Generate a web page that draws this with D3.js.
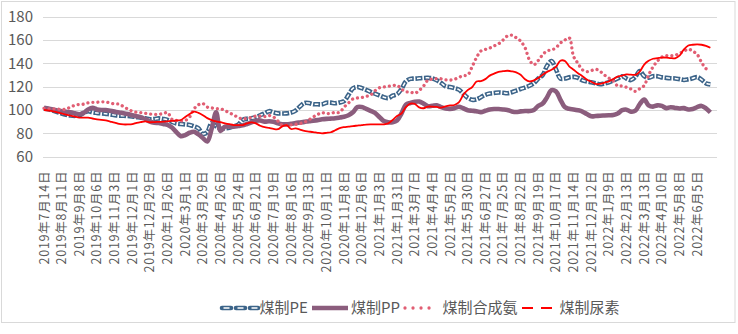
<!DOCTYPE html>
<html><head><meta charset="utf-8">
<script src="https://cdn.jsdelivr.net/npm/d3@7"></script>
<style>
html,body{margin:0;padding:0;background:#fff;}
svg{display:block;}
text{font-family:"Noto Sans CJK SC","Noto Sans",sans-serif;fill:#595959;}
</style></head><body>
<svg id="chart" width="738" height="334"></svg>
<script>
const tickLabels = ["2019年7月14日","2019年8月11日","2019年9月8日","2019年10月6日","2019年11月3日","2019年12月1日","2019年12月29日",
"2020年1月26日","2020年3月1日","2020年3月29日","2020年4月26日","2020年5月24日","2020年6月21日","2020年7月19日","2020年8月16日","2020年9月13日","2020年10月11日","2020年11月8日","2020年12月6日",
"2021年1月3日","2021年1月31日","2021年3月7日","2021年4月4日","2021年5月2日","2021年5月30日","2021年6月27日","2021年7月25日","2021年8月22日","2021年9月19日","2021年10月17日","2021年11月14日","2021年12月12日",
"2022年1月9日","2022年2月13日","2022年3月13日","2022年4月10日","2022年5月8日","2022年6月5日"];
const yTicks = [60,80,100,120,140,160,180];
const seriesNames = ["煤制PE","煤制PP","煤制合成氨","煤制尿素"];

const pe = [101.4,100.6,99.5,98.3,97,96,95.3,95,95.5,97.5,
99,98,97.5,97.1,96.7,96.3,95.6,95.1,95.1,94.8,
94.4,93.9,93.4,92.8,92.1,92.3,92.8,92.3,91.5,89.8,
88.4,88,87.6,87.2,86,84.3,79.5,81,89,86,
84,84.3,84.7,86,87.5,91.5,92.5,92.9,93.8,95.5,
97.1,99,98,97.1,97,97.1,97.8,99.5,103,106,
106,105,104.9,104.9,106.3,106.3,105.8,106.5,107.6,113,
118.5,119.8,118.8,117.3,115.6,114,112.5,111,110.2,112.3,
113.5,118,124.5,126.7,126.9,127.2,127.5,127.6,127.1,125.5,
123.2,120.3,119.7,118.8,117.5,114,110.5,108.8,109,111,
113,114.1,114.6,115,114.8,114.4,115.2,116.6,118,119.2,
120.8,123,127,130,138,142,135,127,127,128,
128.4,127.5,125.5,124.5,123.8,123,122.1,122.8,123.8,125.5,
127.1,129,127,125.7,128.5,133.5,129,127.7,129,129,
128,127.6,127.3,127.1,126.5,125.8,126.3,127.2,128.3,126,
122.9,122];

const pp = [102,101.2,100.5,99.6,99,98.5,98,97.2,96.4,97.5,
100.5,101.8,100.5,100,100,99.3,98.6,97.9,97.3,96.5,
95.5,94.6,93.7,92.3,90,89,88.8,88,87.3,85,
81,77.5,78.5,80.5,81.3,79,76,73,84,98,
82,85.7,85.7,85.7,86.2,86.8,88,89.3,90.8,91,
90,90.3,90,88.6,87.7,87.7,88.2,88.8,89.3,89.8,
90.4,90.8,91.3,92,92.4,92.6,92.9,93.5,94.2,95.5,
98,102.5,102.5,101,99.3,97.5,94,90.5,89.4,89.5,
91,97,104.5,106,107,107.2,105.5,103.3,103.6,104,
102.5,101.3,101,101.5,102.8,101.5,99.8,99.4,99,98.2,
99.3,100.4,100.8,100.8,100.5,100,98.8,98.3,98.8,99.1,
99.1,100,103.5,105.5,111,117,116,109,102.5,101,
100.5,99.8,98.7,96.5,94.6,94.8,95.1,95.3,95.5,95.7,
97,99.8,100.3,98.6,99.4,105,109,104,102.9,104,
103.5,101.6,102.4,101.8,101.3,101.6,100.5,100.8,102.5,103.5,
101.4,98];

const ammonia = [101.4,101,101,100.9,100.3,100.8,102.5,104,104.8,105,
106.2,106.6,106.6,107,106.9,106,105.2,105.1,103,100.8,
99,98,97.8,97.1,96.6,96.3,96.3,97,97.8,92,
91,90.6,91,94,101,104.5,105.5,102.5,101.8,101.2,
101,99.5,97.5,95.8,93.5,92.4,92.8,93.6,94.8,94.7,
94.3,95.3,94,90.6,86.8,86.9,87.3,87.7,88.4,89.5,
91.5,94,96.2,97.7,96.8,97.2,98,98,102.5,106,
109.5,110.3,110.7,111.7,112.8,116.5,119.1,119.7,120.3,120.9,
121.2,118,115.7,115.5,114.3,116.8,120.5,125.7,126.5,127,
126.8,125.9,125.7,126.3,128,129.5,130,137,145,150.6,
152,153.2,155,156.8,160,163.5,164.3,162,159.1,153.5,
143,138.8,142.5,147.5,150.8,151.5,153.4,157.5,160,162,
146,140,134.5,133,133.8,135,133.2,130,127.4,125,
120.6,120.6,119.5,118,116,118.3,121,130,137,142,
145.5,146.6,146.6,147,148.6,150.4,152.2,150.5,147.8,141,
135.5,134.3];

const urea = [100,99.5,98.9,98,97,96,95.2,94.3,93.5,93.4,
93.4,92.7,92,91.6,91,90.1,89.2,88,87.6,87.6,
87.8,89,89.7,90.2,89.5,89.6,89.8,90,90.3,90.6,
91,91.4,94,96.5,98.6,97.5,95.5,93,91.3,90.2,
89.5,88.6,87.8,87.1,87,87.1,88.5,89.4,88.5,86.5,
85.2,84.7,83.8,83.5,86,87,83.7,84.2,83.2,82,
81.5,81,80.4,80,80.4,80.9,82.6,84.5,85.3,85.7,
86.2,86.6,87,87.5,87.7,87.7,87.7,87.7,88.5,91.5,
94.8,97,102.5,105.5,105.2,102.3,101.5,102.9,102.9,102.6,
102,103.2,103.9,104.3,106.5,113,117.1,119.5,124.4,124.8,
126.5,129.5,131.2,132.7,133.3,133.7,133.2,132.3,130.2,126.4,
124.5,125.4,127.4,130.3,132.7,134.5,137.1,142.3,142.2,137.5,
134.6,131.6,129,126.2,124.3,122.5,122.4,123.5,124.6,126.6,
128.6,129.5,130.5,130.3,130.2,133,139,142.2,144,144.5,
145,145,144.6,144.4,146.6,152,155.4,156,156.3,156,
155,153.4];

const svg = d3.select("#chart");
const plotLeft = 43, plotRight = 717;
const x = d3.scaleLinear().domain([0, 152.5]).range([44, 717]);
const y = d3.scaleLinear().domain([60, 180]).range([156.6, 16.8]);

// chart border
svg.append("rect").attr("x",1.5).attr("y",1.5).attr("width",733.5).attr("height",321)
  .attr("fill","none").attr("stroke","#D9D9D9").attr("stroke-width",1);

// gridlines
svg.append("g").selectAll("line").data(yTicks).join("line")
  .attr("x1",plotLeft).attr("x2",plotRight)
  .attr("y1",d=>Math.round(y(d))+0.5).attr("y2",d=>Math.round(y(d))+0.5)
  .attr("stroke","#D9D9D9").attr("stroke-width",1);

// y axis labels
const yAxis = d3.axisLeft(y).tickValues(yTicks).tickSize(0).tickPadding(0);
const gy = svg.append("g").attr("transform","translate(33,0)").call(yAxis);
gy.select(".domain").remove();
gy.selectAll("text").attr("font-size",15).attr("fill","#595959")
  .style("font-family","'Noto Sans CJK SC','Noto Sans',sans-serif");

// x labels
const gx = svg.append("g");
tickLabels.forEach((lab,k)=>{
  const digits = (lab.match(/\d/g)||[]).length;
  gx.append("text")
    .attr("transform",`translate(${x(4*k)},171.5) rotate(-90)`)
    .attr("text-anchor","end").attr("dy","0.36em")
    .attr("font-size",12.5)
    .attr("textLength", digits*8 + 37).attr("lengthAdjust","spacing")
    .text(lab);
});

const line = d3.line().x((d,i)=>x(i)).y(d=>y(d)).curve(d3.curveCatmullRom.alpha(0.5));

const colPE = "#3C6489", colPP = "#8B5D7D", colNH3 = "#E15E73", colUrea = "#FF0000";

// PE
svg.append("path").attr("d",line(pe)).attr("fill","none").attr("stroke",colPE)
  .attr("stroke-width",4.6).attr("stroke-dasharray","7,1.6");
svg.append("path").attr("d",line(pe)).attr("fill","none").attr("stroke","#fff")
  .attr("stroke-width",1.5).attr("stroke-dasharray","3.8,4.8").attr("stroke-dashoffset",-1.6);
// PP
svg.append("path").attr("d",line(pp)).attr("fill","none").attr("stroke",colPP)
  .attr("stroke-width",4.6).attr("stroke-linejoin","round");
// Ammonia
svg.append("path").attr("d",line(ammonia)).attr("fill","none").attr("stroke",colNH3)
  .attr("stroke-width",3.3).attr("stroke-linecap","round").attr("stroke-dasharray","0.01,5");
// Urea
svg.append("path").attr("d",line(urea)).attr("fill","none").attr("stroke",colUrea)
  .attr("stroke-width",1.8);

// legend
const ly = 308;
const lg = svg.append("g");
lg.append("line").attr("x1",222).attr("x2",258).attr("y1",ly).attr("y2",ly)
  .attr("stroke",colPE).attr("stroke-width",4.6).attr("stroke-linecap","round").attr("stroke-dasharray","9,5");
lg.append("line").attr("x1",222).attr("x2",258).attr("y1",ly).attr("y2",ly)
  .attr("stroke","#fff").attr("stroke-width",1.5).attr("stroke-dasharray","6,8").attr("stroke-dashoffset",-1.5);
lg.append("text").attr("x",259.5).attr("y",ly).attr("dy","0.36em").attr("font-size",15).text(seriesNames[0]);
lg.append("line").attr("x1",312).attr("x2",348).attr("y1",ly).attr("y2",ly)
  .attr("stroke",colPP).attr("stroke-width",4.6);
lg.append("text").attr("x",351).attr("y",ly).attr("dy","0.36em").attr("font-size",15).text(seriesNames[1]);
lg.append("line").attr("x1",405).attr("x2",437).attr("y1",ly).attr("y2",ly)
  .attr("stroke",colNH3).attr("stroke-width",3.3).attr("stroke-linecap","round").attr("stroke-dasharray","0.01,8");
lg.append("text").attr("x",442.5).attr("y",ly).attr("dy","0.36em").attr("font-size",15).text(seriesNames[2]);
lg.append("line").attr("x1",522).attr("x2",553).attr("y1",ly).attr("y2",ly)
  .attr("stroke",colUrea).attr("stroke-width",2).attr("stroke-dasharray","11,8");
lg.append("text").attr("x",559.5).attr("y",ly).attr("dy","0.36em").attr("font-size",15).text(seriesNames[3]);
</script>
</body></html>
